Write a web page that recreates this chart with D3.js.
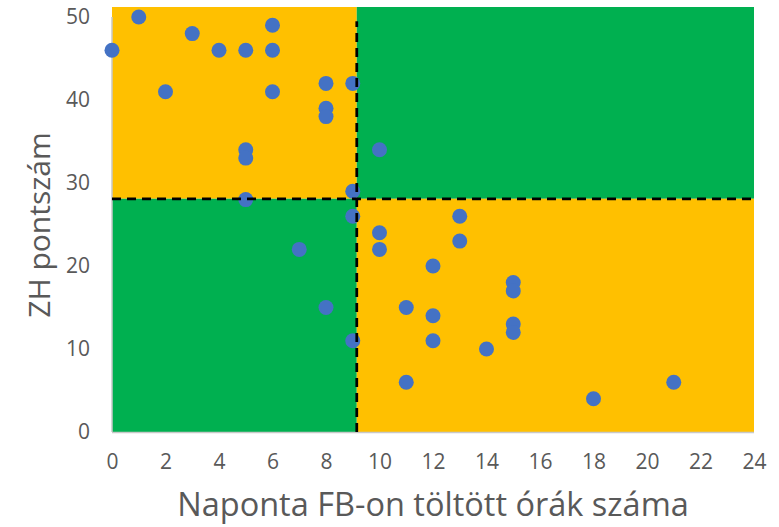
<!DOCTYPE html>
<html>
<head>
<meta charset="utf-8">
<script src="https://cdn.jsdelivr.net/npm/d3@7"></script>
<style>
  body { margin: 0; background: #fff; }
  text { font-family: "Open Sans", "Noto Sans", sans-serif; fill: #595959; }
</style>
</head>
<body>
<div id="chart"></div>
<script>
// hours per day on FB vs. test score
var hours = [0, 1, 3, 4, 5, 6, 6, 2, 6, 8, 9, 8, 8, 5, 5, 10, 9, 5, 9,
             7, 8, 9, 10, 10, 13, 13, 12, 11, 12, 12, 14, 15, 15, 15, 15, 11, 18, 21];
var scores = [46, 50, 48, 46, 46, 46, 49, 41, 41, 42, 42, 39, 38, 34, 33, 34, 29, 28, 26,
              22, 15, 11, 24, 22, 26, 23, 20, 15, 14, 11, 10, 18, 17, 13, 12, 6, 4, 6];
var xTicks = [0, 2, 4, 6, 8, 10, 12, 14, 16, 18, 20, 22, 24];
var yTicks = [0, 10, 20, 30, 40, 50];
var splitX = 9.15;   // vertical divider
var splitY = 28.1;   // horizontal divider
var xTitle = "Naponta FB-on töltött órák száma";
var yTitle = "ZH pontszám";

var width = 779, height = 527;
var margin = { left: 112, right: 25, top: 17, bottom: 95 };
var fillTop = 7;

var svg = d3.select("#chart").append("svg")
    .attr("width", width)
    .attr("height", height);

var x = d3.scaleLinear().domain([0, 24]).range([margin.left, width - margin.right]);
var y = d3.scaleLinear().domain([0, 50]).range([height - margin.bottom, margin.top]);

var yellow = "#FFC000", green = "#00B050";

// quadrant backgrounds
var quads = [
    { x0: 0, x1: splitX, top: true, c: yellow },
    { x0: splitX, x1: 24, top: true, c: green },
    { x0: 0, x1: splitX, top: false, c: green },
    { x0: splitX, x1: 24, top: false, c: yellow }
];
svg.append("g").selectAll("rect")
    .data(quads)
    .enter().append("rect")
    .attr("x", function(d) { return x(d.x0); })
    .attr("width", function(d) { return x(d.x1) - x(d.x0); })
    .attr("y", function(d) { return d.top ? fillTop : y(splitY); })
    .attr("height", function(d) { return d.top ? y(splitY) - fillTop : y(0) - y(splitY); })
    .attr("fill", function(d) { return d.c; });

// axis lines
svg.append("line")
    .attr("x1", x(0)).attr("x2", x(0))
    .attr("y1", y(0)).attr("y2", y(50))
    .attr("stroke", "#c8c8c8").attr("stroke-width", 1.5);
svg.append("line")
    .attr("x1", x(0)).attr("x2", x(24))
    .attr("y1", y(0) + 0.5).attr("y2", y(0) + 0.5)
    .attr("stroke", "#c8c8c8").attr("stroke-width", 1.5);

// points
svg.append("g").selectAll("circle")
    .data(hours)
    .enter().append("circle")
    .attr("cx", function(d) { return x(d); })
    .attr("cy", function(d, i) { return y(scores[i]); })
    .attr("r", 7.5)
    .attr("fill", "#4472C4");

// dashed dividers
svg.append("line")
    .attr("x1", x(splitX)).attr("x2", x(splitX))
    .attr("y1", y(0)).attr("y2", y(49.5))
    .attr("stroke", "#000").attr("stroke-width", 2.75)
    .attr("stroke-dasharray", "9,6");
svg.append("line")
    .attr("x1", x(0)).attr("x2", x(24))
    .attr("y1", y(splitY)).attr("y2", y(splitY))
    .attr("stroke", "#000").attr("stroke-width", 2.75)
    .attr("stroke-dasharray", "9,6");

// tick labels
var xAxis = d3.axisBottom(x).tickValues(xTicks).tickSize(0).tickPadding(22);
var gx = svg.append("g")
    .attr("transform", "translate(0," + y(0) + ")")
    .call(xAxis);
gx.select(".domain").remove();
gx.selectAll("text").style("font-size", "21px").attr("fill", "#595959");

var yAxis = d3.axisLeft(y).tickValues(yTicks).tickSize(0).tickPadding(22);
var gy = svg.append("g")
    .attr("transform", "translate(" + x(0) + ",0)")
    .call(yAxis);
gy.select(".domain").remove();
gy.selectAll("text").style("font-size", "21px").attr("fill", "#595959");

// titles
svg.append("text")
    .attr("x", (x(0) + x(24)) / 2)
    .attr("y", 516)
    .attr("text-anchor", "middle")
    .style("font-size", "32.5px")
    .text(xTitle);

svg.append("text")
    .attr("transform", "translate(50," + 225 + ")rotate(-90)")
    .attr("text-anchor", "middle")
    .style("font-size", "30px")
    .text(yTitle);
</script>
</body>
</html>
